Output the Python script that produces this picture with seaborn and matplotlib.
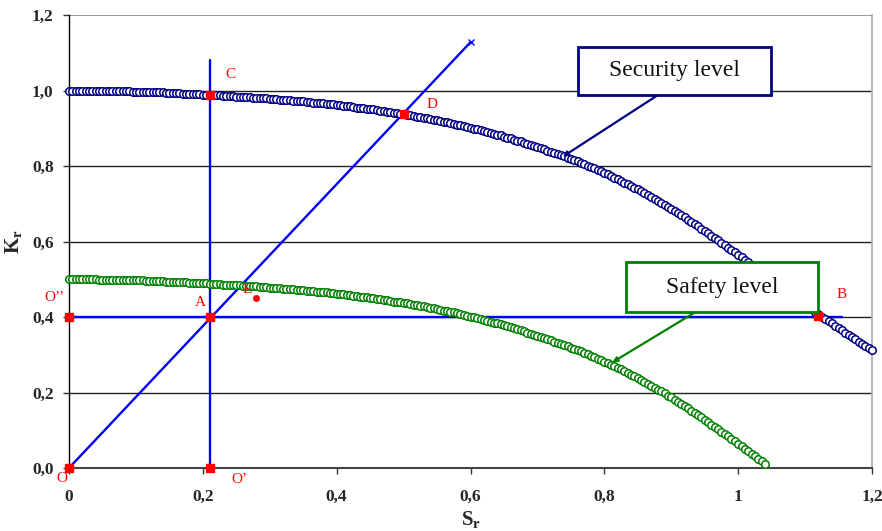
import numpy as np
import matplotlib
matplotlib.use("Agg")
import matplotlib.pyplot as plt
import seaborn as sns
from matplotlib.patches import Rectangle

# curve points are spaced evenly along S_r
sr_step = 0.005

# K_r of the security level curve (S_r = 0 ... 1.2)
kr_security = [
    1.000, 1.000, 1.000, 1.000, 1.000, 1.000, 1.000, 1.000, 1.000, 0.999,
    0.999, 0.999, 0.999, 0.999, 0.999, 0.998, 0.998, 0.998, 0.998, 0.997,
    0.997, 0.997, 0.997, 0.996, 0.996, 0.996, 0.995, 0.995, 0.995, 0.994,
    0.994, 0.993, 0.993, 0.993, 0.992, 0.992, 0.991, 0.991, 0.990, 0.990,
    0.989, 0.989, 0.988, 0.988, 0.987, 0.987, 0.986, 0.986, 0.985, 0.985,
    0.984, 0.984, 0.983, 0.983, 0.982, 0.981, 0.981, 0.980, 0.979, 0.979,
    0.978, 0.977, 0.977, 0.976, 0.975, 0.975, 0.974, 0.973, 0.972, 0.972,
    0.971, 0.970, 0.969, 0.968, 0.967, 0.966, 0.966, 0.965, 0.964, 0.963,
    0.962, 0.961, 0.960, 0.959, 0.958, 0.956, 0.955, 0.954, 0.953, 0.952,
    0.951, 0.950, 0.948, 0.947, 0.946, 0.944, 0.943, 0.941, 0.940, 0.939,
    0.937, 0.936, 0.934, 0.933, 0.931, 0.929, 0.928, 0.926, 0.924, 0.923,
    0.921, 0.919, 0.917, 0.916, 0.914, 0.912, 0.910, 0.908, 0.906, 0.904,
    0.901, 0.899, 0.897, 0.895, 0.893, 0.890, 0.888, 0.885, 0.883, 0.881,
    0.878, 0.875, 0.873, 0.870, 0.867, 0.865, 0.862, 0.859, 0.856, 0.853,
    0.850, 0.848, 0.845, 0.841, 0.838, 0.835, 0.832, 0.829, 0.826, 0.822,
    0.819, 0.816, 0.812, 0.809, 0.805, 0.801, 0.798, 0.794, 0.790, 0.786,
    0.782, 0.778, 0.774, 0.769, 0.765, 0.761, 0.756, 0.752, 0.747, 0.743,
    0.738, 0.733, 0.728, 0.723, 0.718, 0.713, 0.708, 0.703, 0.698, 0.692,
    0.687, 0.681, 0.676, 0.670, 0.664, 0.658, 0.652, 0.646, 0.640, 0.634,
    0.628, 0.622, 0.615, 0.609, 0.603, 0.596, 0.590, 0.584, 0.577, 0.571,
    0.564, 0.558, 0.551, 0.545, 0.538, 0.531, 0.525, 0.518, 0.511, 0.505,
    0.498, 0.491, 0.485, 0.478, 0.471, 0.465, 0.458, 0.452, 0.445, 0.439,
    0.432, 0.426, 0.420, 0.413, 0.407, 0.401, 0.395, 0.389, 0.383, 0.377,
    0.370, 0.365, 0.359, 0.353, 0.347, 0.341, 0.335, 0.329, 0.323, 0.318,
    0.312,
]

# K_r of the safety level curve (S_r = 0 ... 1.04)
kr_safety = [
    0.500, 0.500, 0.500, 0.500, 0.500, 0.500, 0.500, 0.500, 0.500, 0.499,
    0.499, 0.499, 0.499, 0.499, 0.499, 0.498, 0.498, 0.498, 0.498, 0.497,
    0.497, 0.497, 0.497, 0.496, 0.496, 0.496, 0.495, 0.495, 0.495, 0.494,
    0.494, 0.493, 0.493, 0.493, 0.492, 0.492, 0.491, 0.491, 0.490, 0.490,
    0.489, 0.489, 0.488, 0.488, 0.487, 0.487, 0.486, 0.486, 0.485, 0.485,
    0.484, 0.484, 0.483, 0.483, 0.482, 0.481, 0.481, 0.480, 0.479, 0.479,
    0.478, 0.477, 0.477, 0.476, 0.475, 0.475, 0.474, 0.473, 0.472, 0.472,
    0.471, 0.470, 0.469, 0.468, 0.467, 0.466, 0.466, 0.465, 0.464, 0.463,
    0.462, 0.461, 0.460, 0.459, 0.458, 0.456, 0.455, 0.454, 0.453, 0.452,
    0.451, 0.450, 0.448, 0.447, 0.446, 0.444, 0.443, 0.441, 0.440, 0.439,
    0.437, 0.436, 0.434, 0.433, 0.431, 0.429, 0.428, 0.426, 0.424, 0.423,
    0.421, 0.419, 0.417, 0.416, 0.414, 0.412, 0.410, 0.408, 0.406, 0.404,
    0.401, 0.399, 0.397, 0.395, 0.393, 0.390, 0.388, 0.385, 0.383, 0.381,
    0.378, 0.375, 0.373, 0.370, 0.367, 0.365, 0.362, 0.359, 0.356, 0.353,
    0.350, 0.348, 0.345, 0.341, 0.338, 0.335, 0.332, 0.329, 0.326, 0.322,
    0.319, 0.316, 0.312, 0.309, 0.305, 0.301, 0.298, 0.294, 0.290, 0.286,
    0.282, 0.278, 0.274, 0.269, 0.265, 0.261, 0.256, 0.252, 0.247, 0.243,
    0.238, 0.233, 0.228, 0.223, 0.218, 0.213, 0.208, 0.203, 0.198, 0.192,
    0.187, 0.181, 0.176, 0.170, 0.164, 0.158, 0.152, 0.146, 0.140, 0.134,
    0.128, 0.122, 0.115, 0.109, 0.103, 0.096, 0.090, 0.084, 0.077, 0.071,
    0.064, 0.058, 0.051, 0.045, 0.038, 0.031, 0.025, 0.018, 0.011,
]

sr_security = sr_step * np.arange(len(kr_security))
sr_safety = sr_step * np.arange(len(kr_safety))

x_ticks = [0, 0.2, 0.4, 0.6, 0.8, 1.0, 1.2]
x_tick_labels = ["0", "0,2", "0,4", "0,6", "0,8", "1", "1,2"]
y_ticks = [0, 0.2, 0.4, 0.6, 0.8, 1.0, 1.2]
y_tick_labels = ["0,0", "0,2", "0,4", "0,6", "0,8", "1,0", "1,2"]

# construction lines
vert_x = [0.21, 0.21]
vert_y = [0.0, 1.08]
horiz_x = [0.0, 1.155]
horiz_y = [0.4, 0.4]
diag_x = [0.0, 0.6]
diag_y = [0.0, 1.128]

# named points
point_names = ["O", "O’", "O’’", "A", "C", "D", "B"]
point_x = [0.0, 0.21, 0.0, 0.21, 0.21, 0.5, 1.12]
point_y = [0.0, 0.0, 0.4, 0.4, 0.988, 0.937, 0.403]
e_x = [0.28]
e_y = [0.45]

sns.set_theme(style="white")
plt.rcParams["font.family"] = "Liberation Serif"
plt.rcParams["mathtext.fontset"] = "custom"
plt.rcParams["mathtext.rm"] = "Liberation Serif"
plt.rcParams["mathtext.bf"] = "Liberation Serif:bold"

fig = plt.figure(figsize=(8.82, 5.31), dpi=100)
ax = fig.add_axes([0.0782, 0.1186, 0.9105, 0.8531])

# gridlines
for yv in y_ticks[1:-1]:
    ax.axhline(yv, color="#222222", lw=1.0, zorder=0)
ax.axhline(1.2, color="#888888", lw=1.2, zorder=0)

# blue construction lines
ax.plot(vert_x, vert_y, color="#0000ff", lw=1.7, zorder=2)
ax.plot(horiz_x, horiz_y, color="#0000ff", lw=1.7, zorder=2)
ax.plot(diag_x, diag_y, color="#0000ff", lw=1.7, marker="x", ms=4, mew=1.0,
        zorder=2, clip_on=False)

# level curves
sns.lineplot(x=sr_security, y=kr_security, ax=ax, linestyle="none", marker="o",
             markersize=5.4, markerfacecolor="white", markeredgecolor="#000080",
             markeredgewidth=1.1, color="#000080", clip_on=False, zorder=3)
sns.lineplot(x=sr_safety, y=kr_safety, ax=ax, linestyle="none", marker="o",
             markersize=5.4, markerfacecolor="white", markeredgecolor="#008000",
             markeredgewidth=1.1, color="#008000", clip_on=False, zorder=3)

# red points
ax.plot(point_x, point_y, linestyle="none", marker="s", ms=6, color="#ff0000",
        zorder=4, clip_on=False)
ax.plot(e_x, e_y, linestyle="none", marker="o", ms=4, color="#ff0000", zorder=4)

label_pos = {"O": (-0.010, -0.028), "O’": (0.255, -0.030), "O’’": (-0.022, 0.452),
             "A": (0.196, 0.439), "C": (0.241, 1.042), "D": (0.542, 0.963),
             "B": (1.154, 0.460)}
for name in point_names:
    lx, ly = label_pos[name]
    ax.text(lx, ly, name, color="#ff0000", fontsize=11, ha="center", va="center",
            clip_on=False, zorder=5)
ax.text(0.266, 0.474, "E", color="#ff0000", fontsize=11, ha="center", va="center",
        zorder=5)

# callout boxes
ax.add_patch(Rectangle((0.761, 0.989), 0.288, 0.127, facecolor="white",
                       edgecolor="#000080", lw=2.0, zorder=6))
ax.text(0.905, 1.053, "Security level", fontsize=17, ha="center", va="center",
        color="#111111", zorder=7)
ax.annotate("", xy=(0.738, 0.825), xytext=(0.880, 0.988),
            arrowprops=dict(arrowstyle="-|>", color="#000080", lw=1.6,
                            mutation_scale=7, shrinkA=0, shrinkB=0), zorder=5)

ax.add_patch(Rectangle((0.833, 0.413), 0.287, 0.132, facecolor="white",
                       edgecolor="#008000", lw=2.0, zorder=6))
ax.text(0.976, 0.479, "Safety level", fontsize=17, ha="center", va="center",
        color="#111111", zorder=7)
ax.annotate("", xy=(0.812, 0.280), xytext=(0.936, 0.413),
            arrowprops=dict(arrowstyle="-|>", color="#008000", lw=1.6,
                            mutation_scale=7, shrinkA=0, shrinkB=0), zorder=5)

# axes
ax.set_xlim(0, 1.2)
ax.set_ylim(0, 1.2)
ax.set_xticks(x_ticks)
ax.set_xticklabels(x_tick_labels, fontsize=12.5, fontweight="bold")
ax.set_yticks(y_ticks)
ax.set_yticklabels(y_tick_labels, fontsize=12.5, fontweight="bold")
ax.tick_params(axis="both", direction="out", length=4, width=1, color="#333333",
               bottom=True, left=True)
ax.tick_params(axis="x", pad=11)
ax.tick_params(axis="y", pad=7)
ax.spines["left"].set_color("black")
ax.spines["left"].set_linewidth(1.0)
ax.spines["bottom"].set_color("#444444")
ax.spines["bottom"].set_linewidth(1.5)
ax.spines["right"].set_color("#aaaaaa")
ax.spines["right"].set_linewidth(1.2)
ax.spines["top"].set_visible(False)
ax.set_xlabel(r"$\mathbf{S_r}$", fontsize=15, labelpad=3)
ax.set_ylabel(r"$\mathbf{K_r}$", fontsize=15, labelpad=6)

fig.savefig("out.png", dpi=100)
